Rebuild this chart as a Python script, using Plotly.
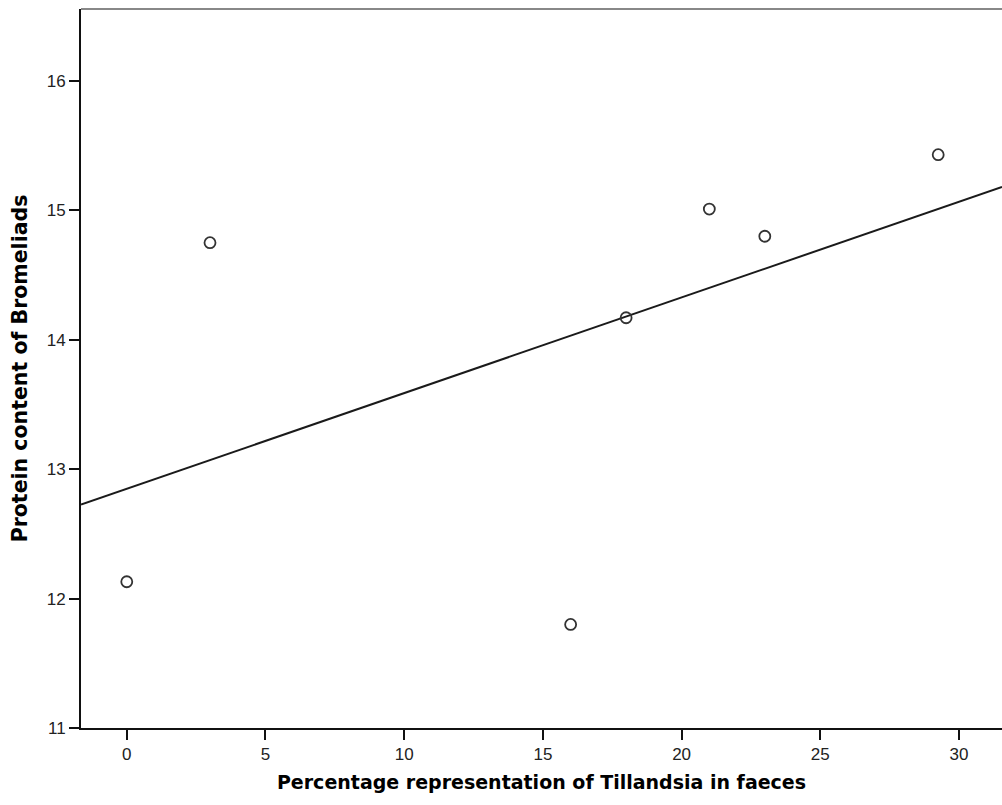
import numpy as np
import plotly.graph_objects as go

# Data
tillandsia_pct = [0, 3, 16, 18, 21, 23, 29.25]
protein = [12.13, 14.75, 11.8, 14.17, 15.01, 14.8, 15.43]
x_ticks = [0, 5, 10, 15, 20, 25, 30]
y_ticks = [11, 12, 13, 14, 15, 16]

x_range = [-1.65, 31.55]
y_range = [11, 16.556]

# Linear fit line (least squares) over the full x range
slope, intercept = np.polyfit(tillandsia_pct, protein, 1)
fit_x = np.array(x_range)
fit_y = intercept + slope * fit_x

fig = go.Figure()
fig.add_trace(go.Scatter(
    x=fit_x, y=fit_y, mode="lines",
    line=dict(color="#1a1a1a", width=2), showlegend=False, hoverinfo="skip"))
fig.add_trace(go.Scatter(
    x=tillandsia_pct, y=protein, mode="markers",
    marker=dict(symbol="circle-open", size=11, color="#333333", line=dict(width=1.8)),
    showlegend=False))

tick_font = dict(family="Liberation Sans, Arial, sans-serif", size=17, color="#222222")
xtitle_font = dict(family="DejaVu Sans, Verdana, sans-serif", size=19, color="#000000")
ytitle_font = dict(family="DejaVu Sans, Verdana, sans-serif", size=20.5, color="#000000")

fig.update_layout(
    width=1002, height=805,
    margin=dict(l=81, r=0, t=9, b=77),
    paper_bgcolor="white", plot_bgcolor="white",
    xaxis=dict(
        range=x_range, tickvals=x_ticks, ticktext=[str(v) for v in x_ticks],
        showgrid=False, zeroline=False, showline=True, linecolor="#111111", linewidth=2,
        ticks="outside", ticklen=10, tickwidth=2, tickcolor="#111111",
        tickfont=tick_font,
        title=dict(text="<b>Percentage representation of Tillandsia in faeces</b>",
                   font=xtitle_font, standoff=12),
    ),
    yaxis=dict(
        range=y_range, tickvals=y_ticks, ticktext=[str(v) for v in y_ticks],
        showgrid=False, zeroline=False, showline=True, linecolor="#111111", linewidth=2,
        ticks="outside", ticklen=10, tickwidth=2, tickcolor="#111111",
        tickfont=tick_font,
        title=dict(text="<b>Protein content of Bromeliads</b>", font=ytitle_font, standoff=14),
    ),
    shapes=[dict(type="line", xref="paper", yref="paper", x0=0, x1=1, y0=1, y1=1,
                 line=dict(color="#888888", width=2))],
)

fig.write_html("out.html")
